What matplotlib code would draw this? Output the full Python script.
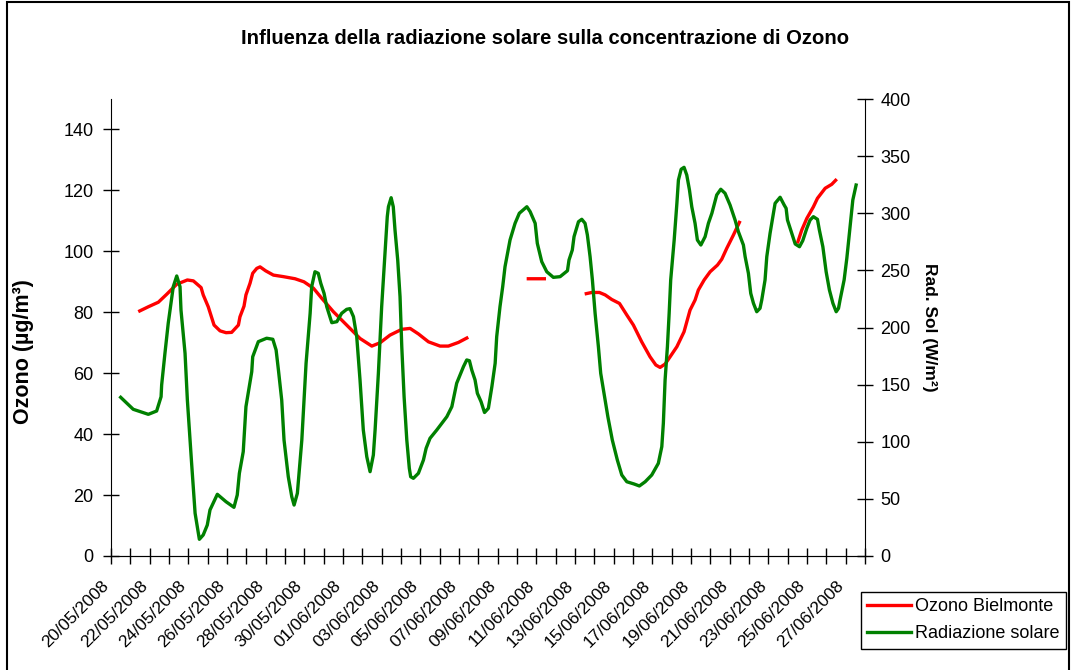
import numpy as np
import matplotlib.pyplot as plt
from matplotlib.patches import Rectangle
from matplotlib.lines import Line2D

plt.rcParams['font.family'] = ['Liberation Sans', 'DejaVu Sans']

# categorie: un giorno ciascuna, dal 20/05/2008 al 27/06/2008
n_days = 39
date_labels = ['20/05/2008', '22/05/2008', '24/05/2008', '26/05/2008', '28/05/2008',
               '30/05/2008', '01/06/2008', '03/06/2008', '05/06/2008', '07/06/2008',
               '09/06/2008', '11/06/2008', '13/06/2008', '15/06/2008', '17/06/2008',
               '19/06/2008', '21/06/2008', '23/06/2008', '25/06/2008', '27/06/2008']

# Ozono Bielmonte (ug/m3), giorno = indice di categoria, nan = dato mancante
ozone_day = [0.91, 1.43, 1.95, 2.38, 2.90, 3.45, 3.76, 4.16, 4.27, 4.53, 4.83, 5.14, 5.45,
             5.74, 6.09, 6.17, 6.38, 6.48, 6.69, 6.83, 7.04, 7.21, 7.50, 7.90, 8.41, 9.02,
             9.48, 9.97, 10.40, 11.00, 11.69, 12.38, 12.99, 13.42, 13.93, 14.54, 14.97,
             15.40, 15.92, 16.52, 16.95, 17.47, 17.98, 19.5,
             21.0, 22.0, 23.0,
             24.0, 24.37, 24.76, 25.06, 25.40, 25.80, 26.18, 26.52, 26.95, 27.38, 27.68,
             27.90, 28.16, 28.42, 28.77, 29.14, 29.45, 29.71, 29.88, 30.18, 30.49, 30.87,
             31.09, 31.35, 31.69, 32.04, 33.5,
             35.0, 35.23, 35.49, 35.83, 36.04, 36.44, 36.78, 37.04]
ozone_val = [80.2, 81.8, 83.3, 85.9, 89.2, 90.6, 90.3, 88.1, 85.7, 81.8, 75.8, 73.9, 73.3,
             73.4, 75.8, 78.5, 82.0, 85.7, 89.5, 92.8, 94.4, 94.9, 93.6, 92.2, 91.7, 91.0,
             90.0, 87.9, 84.6, 80.2, 75.8, 71.4, 68.9, 70.0, 72.5, 74.4, 74.7,
             72.9, 70.3, 68.9, 68.9, 70.1, 71.8, np.nan,
             91.0, 91.0, np.nan,
             86.0, 86.5, 86.5, 85.7, 84.2, 82.9, 79.1, 75.8, 70.3, 65.4, 62.7,
             61.9, 63.0, 65.4, 68.7, 73.6, 80.7, 84.0, 87.3, 90.6, 93.3, 95.5,
             97.4, 101.0, 105.3, 110.0, np.nan,
             102.6, 107.0, 110.8, 114.6, 117.4, 120.7, 122.0, 123.7]

# Radiazione solare (W/m2)
rad_day = [0.0, 0.65, 1.43, 1.86, 2.09, 2.12, 2.29, 2.46, 2.72, 2.90, 3.07, 3.12, 3.33,
           3.45, 3.67, 3.85, 4.07, 4.27, 4.48, 4.62, 5.00, 5.45, 5.86, 6.03, 6.14, 6.34,
           6.48, 6.78, 6.83, 7.12, 7.55, 7.87, 8.04, 8.16, 8.33, 8.45, 8.67, 8.85, 8.97,
           9.14, 9.37, 9.59, 9.80, 9.88, 10.05, 10.22, 10.35, 10.52, 10.66, 10.83, 10.92,
           11.18, 11.43, 11.69, 11.86, 12.04, 12.21, 12.38, 12.55, 12.73, 12.90, 13.07,
           13.16, 13.33, 13.50, 13.67, 13.79, 13.85, 13.99, 14.10, 14.19, 14.33, 14.45,
           14.54, 14.66, 14.80, 14.93, 15.00, 15.14, 15.40, 15.66, 15.80, 16.00, 16.35,
           16.87, 17.13, 17.38, 17.73, 17.90, 18.04, 18.16, 18.33, 18.45, 18.64, 18.82,
           19.02, 19.20, 19.37, 19.45, 19.62, 19.76, 19.88, 20.14, 20.40, 20.62, 21.01,
           21.18, 21.44, 21.55, 21.78, 22.04, 22.38, 22.73, 23.11, 23.19, 23.36, 23.45,
           23.68, 23.85, 24.02, 24.14, 24.28, 24.40, 24.54, 24.71, 24.83, 25.00, 25.20,
           25.43, 25.69, 25.92, 26.18, 26.56, 26.83, 27.13, 27.47, 27.81, 27.99, 28.07,
           28.16, 28.28, 28.37, 28.45, 28.63, 28.77, 28.85, 28.99, 29.14, 29.28, 29.42,
           29.54, 29.71, 29.83, 30.01, 30.23, 30.40, 30.58, 30.83, 31.04, 31.26, 31.52,
           31.78, 31.95, 32.21, 32.30, 32.47, 32.59, 32.73, 32.90, 33.07, 33.16, 33.33,
           33.42, 33.59, 33.76, 33.85, 34.11, 34.32, 34.42, 34.49, 34.71, 34.89, 35.11,
           35.28, 35.49, 35.66, 35.83, 36.04, 36.14, 36.32, 36.49, 36.66, 36.84, 37.01,
           37.13, 37.21, 37.42, 37.56, 37.73, 37.87, 38.04]
rad_val = [138.9, 128.4, 124.0, 126.9, 139.4, 149.7, 177.4, 203.7, 235.7, 245.1, 235.7,
           215.3, 177.4, 136.5, 81.1, 37.4, 14.6, 18.4, 27.1, 40.3, 54.0, 47.5, 42.6, 53.4,
           72.4, 91.3, 130.7, 161.3, 174.4, 187.6, 190.6, 189.7, 180.3, 162.8, 136.5, 101.5,
           69.4, 51.9, 44.6, 54.9, 101.5, 168.7, 212.4, 235.7, 248.8, 247.4, 238.7, 229.9,
           218.2, 208.9, 204.2, 205.1, 212.4, 215.9, 216.5, 209.5, 192.0, 154.1, 110.3,
           86.9, 73.8, 88.4, 110.3, 159.9, 218.2, 265.0, 297.0, 305.7, 313.6, 305.7, 285.3,
           259.1, 227.0, 183.2, 139.4, 101.5, 76.8, 69.4, 68.0, 72.4, 84.0, 94.3, 103.0,
           110.3, 121.9, 130.7, 151.2, 165.7, 171.6, 170.9, 162.8, 154.1, 142.4, 135.1,
           125.6, 129.3, 148.2, 168.7, 192.0, 218.2, 235.7, 253.2, 276.6, 291.2, 300.0,
           305.7, 301.4, 291.2, 273.7, 257.6, 248.8, 243.9, 244.5, 249.7, 259.1, 267.8,
           279.5, 292.6, 294.7, 291.2, 281.0, 262.0, 241.6, 212.4, 183.2, 159.9, 142.4,
           121.9, 101.5, 84.0, 70.9, 65.0, 63.0, 61.3, 65.0, 70.9, 81.1, 95.7, 116.2,
           154.1, 183.2, 212.4, 241.6, 276.6, 308.7, 329.1, 338.5, 340.2, 333.5, 320.4,
           305.7, 291.2, 276.6, 272.2, 279.5, 291.2, 300.0, 316.0, 321.0, 317.5, 307.2,
           294.1, 283.9, 272.2, 262.0, 247.4, 229.9, 221.2, 213.8, 216.8, 224.1, 241.6,
           262.0, 282.5, 300.0, 308.7, 314.0, 307.2, 304.3, 294.1, 282.5, 273.1, 270.7,
           276.0, 286.8, 294.1, 297.0, 294.7, 285.3, 270.7, 248.8, 232.8, 221.2, 213.8,
           216.8, 224.1, 241.6, 260.6, 288.2, 311.6, 324.7]

W, H = 1071, 670
fig = plt.figure(figsize=(W / 100, H / 100), dpi=100)
ax = fig.add_axes([111 / W, 1 - 556 / H, (865 - 111) / W, (556 - 99) / H])
ax2 = ax.twinx()

ax.plot(ozone_day, ozone_val, color='#ff0000', lw=2.4, solid_capstyle='butt')
ax2.plot(rad_day, rad_val, color='#008000', lw=2.4)

ax.set_xlim(-0.5, n_days - 0.5)
ax.set_ylim(0, 150)
ax2.set_ylim(0, 400)
ax.set_yticks(np.arange(0, 141, 20))
ax2.set_yticks(np.arange(0, 401, 50))
ax.set_xticks(np.arange(n_days + 1) - 0.5)
ax.set_xticklabels([])

for a in (ax, ax2):
    a.spines['top'].set_visible(False)
    a.tick_params(direction='inout', length=12, width=1, labelsize=13, colors='black')
ax.spines['right'].set_visible(False)
ax2.spines['left'].set_visible(False)
ax.spines['bottom'].set_color('#505050')
ax.tick_params(axis='y', pad=6.5)
ax2.tick_params(axis='y', pad=5)

for i, lab in enumerate(date_labels):
    ax.annotate(lab, xy=(2 * i, 0), xycoords=('data', 'axes fraction'),
                xytext=(-14, -16), textcoords='offset points',
                rotation=45, rotation_mode='anchor', ha='right', va='top', fontsize=12.5)

ax.set_ylabel('Ozono (µg/m³)', fontsize=15.5, fontweight='bold')
ax.yaxis.set_label_coords((34 - 111) / 754, 0.448)
ax2.set_ylabel('Rad. Sol (W/m²)', fontsize=12.5, fontweight='bold', rotation=270,
               labelpad=19)

fig.text(545 / W, 1 - 38 / H, 'Influenza della radiazione solare sulla concentrazione di Ozono',
         ha='center', va='center', fontsize=14.6, fontweight='bold')

handles = [Line2D([], [], color='#ff0000', lw=2.4), Line2D([], [], color='#008000', lw=2.4)]
leg = fig.legend(handles, ['Ozono Bielmonte', 'Radiazione solare'], loc='upper left',
                 bbox_to_anchor=(861 / W, 1 - 592 / H), fontsize=13, frameon=True,
                 fancybox=False, edgecolor='black', framealpha=1, borderaxespad=0,
                 handlelength=2.4, handletextpad=0.25, labelspacing=0.55,
                 borderpad=0.35)
leg.get_frame().set_linewidth(1)

fig.patches.append(Rectangle((7 / W, -0.01), (1069 - 7) / W, 1.01 - 1.5 / H,
                             transform=fig.transFigure, fill=False, edgecolor='black',
                             lw=1.5))

fig.savefig('out.png', dpi=100)
